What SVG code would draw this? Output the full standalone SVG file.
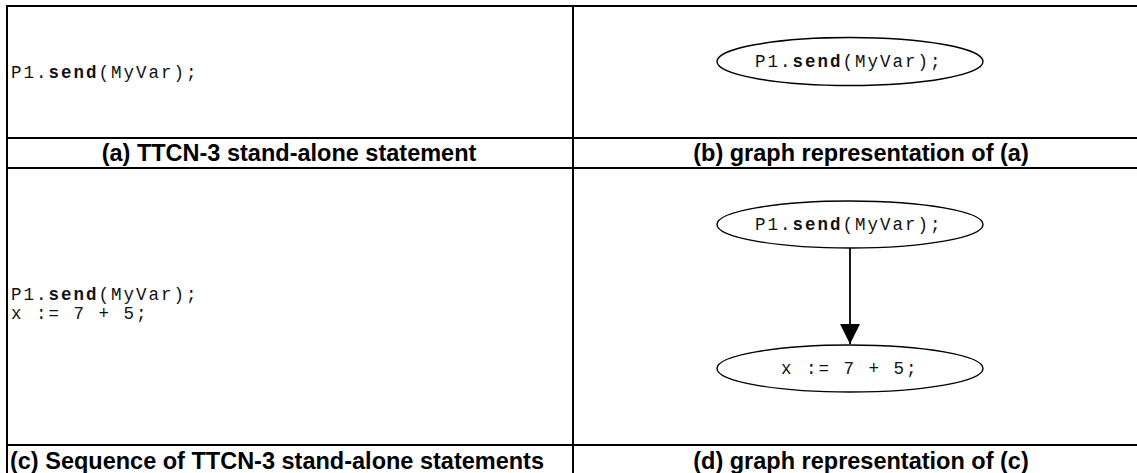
<svg xmlns="http://www.w3.org/2000/svg" width="1137" height="473" viewBox="0 0 1137 473">
  <style>
    .grid { stroke: #000; stroke-width: 2; fill: none; }
    .node { fill: #fff; stroke: #000; stroke-width: 1.4; }
    .code { font-family: "Liberation Mono", "Courier New", monospace; font-size: 17.5px; letter-spacing: 2px; fill: #111; }
    .code .kw { font-weight: bold; }
    .cap { font-family: "Liberation Sans", Arial, sans-serif; font-size: 23.5px; font-weight: bold; fill: #000; text-anchor: middle; }
    .edge { stroke: #000; stroke-width: 1.8; fill: none; }
  </style>
  <defs>
    <marker id="arrow" markerUnits="userSpaceOnUse" markerWidth="20" markerHeight="20" refX="20" refY="10" orient="auto">
      <path d="M0,0 L20,10 L0,20 Z" fill="#000"/>
    </marker>
  </defs>
  <rect width="1137" height="473" fill="#fff"/>
  <g id="table">
    <line class="grid" x1="6" y1="6" x2="1137" y2="6"/>
    <line class="grid" x1="7" y1="5" x2="7" y2="473"/>
    <line class="grid" x1="573" y1="5" x2="573" y2="473"/>
    <line class="grid" x1="6" y1="138" x2="1137" y2="138"/>
    <line class="grid" x1="6" y1="168" x2="1137" y2="168"/>
    <line class="grid" x1="6" y1="445" x2="1137" y2="445"/>
  </g>
  <g id="code-a">
    <text class="code" x="11" y="78">P1.<tspan class="kw">send</tspan>(MyVar);</text>
  </g>
  <g id="code-c">
    <text class="code" x="11" y="300">P1.<tspan class="kw">send</tspan>(MyVar);</text>
    <text class="code" x="11" y="318.5">x := 7 + 5;</text>
  </g>
  <g id="captions">
    <text class="cap" x="289" y="161">(a) TTCN-3 stand-alone statement</text>
    <text class="cap" x="861" y="161">(b) graph representation of (a)</text>
    <text class="cap" x="277" y="469">(c) Sequence of TTCN-3 stand-alone statements</text>
    <text class="cap" x="861" y="469">(d) graph representation of (c)</text>
  </g>
  <g id="connectors">
    <line class="edge" x1="850" y1="248" x2="850" y2="344" marker-end="url(#arrow)"/>
  </g>
  <g id="node-b">
    <ellipse class="node" cx="850" cy="61.5" rx="133" ry="24"/>
    <text class="code" x="755" y="67">P1.<tspan class="kw">send</tspan>(MyVar);</text>
  </g>
  <g id="node-d1">
    <ellipse class="node" cx="850" cy="224.5" rx="133" ry="23.5"/>
    <text class="code" x="755" y="230">P1.<tspan class="kw">send</tspan>(MyVar);</text>
  </g>
  <g id="node-d2">
    <ellipse class="node" cx="850" cy="368.5" rx="133" ry="23.5"/>
    <text class="code" x="781" y="374">x := 7 + 5;</text>
  </g>
</svg>
